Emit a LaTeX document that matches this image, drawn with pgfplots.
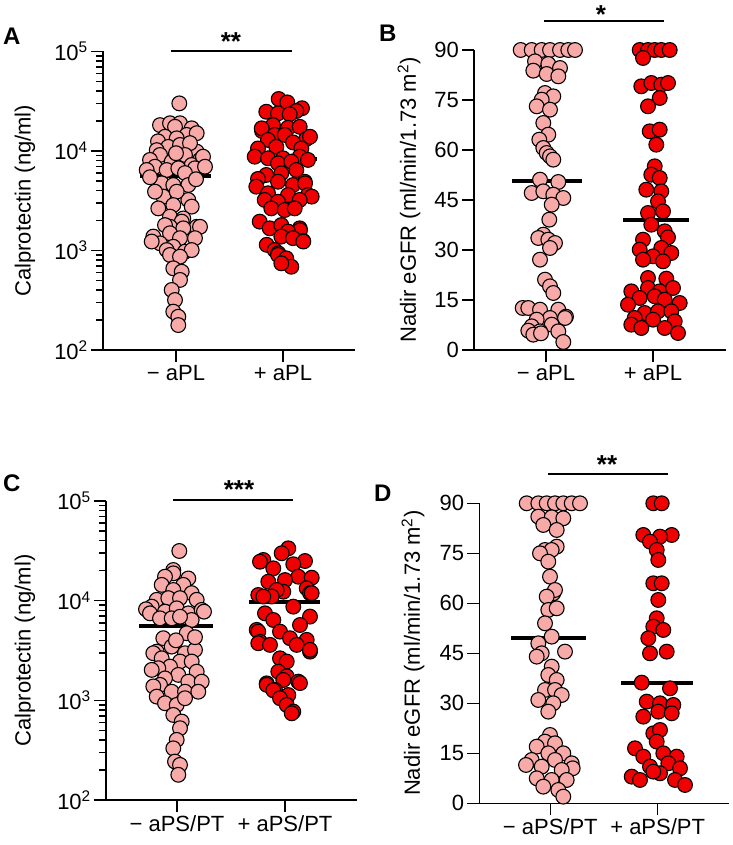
\documentclass[border=0pt]{standalone}
\usepackage{fontspec}
\setmainfont{Liberation Sans}
\usepackage{pgfplots}
\pgfplotsset{compat=1.18}
\definecolor{pinkfill}{RGB}{247,170,168}
\definecolor{redfill}{RGB}{240,0,0}
\pgfplotsset{
  dotpanel/.style={
    scale only axis,
    axis x line*=bottom, axis y line*=left,
    axis line style={line width=1.5pt, black},
    tick align=outside,
    major tick length=12pt, minor tick length=7pt,
    tick style={line width=1.5pt, black},
    clip=false,
    tick label style={font=\fontsize{22}{26}\selectfont},
    yticklabel style={inner sep=3pt},
    label style={font=\fontsize{22}{26}\selectfont},
    /pgf/number format/assume math mode=true,
  },
  pinkdots/.style={only marks, mark=*, mark size=7.4pt, mark options={fill=pinkfill, draw=black, line width=1.1pt}},
  reddots/.style={only marks, mark=*, mark size=7.4pt, mark options={fill=redfill, draw=black, line width=1.1pt}},
  meanline/.style={no marks, line width=4pt, black},
  sigbar/.style={no marks, line width=1.5pt, black},
}
\newcommand{\stars}[1]{{\fontsize{26}{30}\selectfont\bfseries #1}}
\newcommand{\panel}[1]{{\fontsize{24}{28}\selectfont\bfseries #1}}
\begin{document}
\begin{tikzpicture}
\useasboundingbox (0,0) rectangle (732pt,845pt);

% ---------------- Panel A ----------------
\begin{axis}[dotpanel, at={(103pt,495pt)}, anchor=south west, width=252pt, height=298.5pt,
  xmin=103, xmax=355, ymode=log, ymin=100, ymax=100000,
  xtick={176,283}, xticklabels={− aPL, + aPL},
  ytick={100,1000,10000,100000},
  yticklabels={10\textsuperscript{2},10\textsuperscript{3},10\textsuperscript{4},10\textsuperscript{5}},
  minor ytick={200,300,400,500,600,700,800,900,2000,3000,4000,5000,6000,7000,8000,9000,20000,30000,40000,50000,60000,70000,80000,90000},
  ylabel={Calprotectin (ng/ml)}, ylabel style={at={(axis description cs:-0.31,0.5)}, anchor=center}]
\addplot[pinkdots] coordinates {
(179.3,30100)
(160,18200) (170,19000) (180,19000) (191.7,16900) (175,17500)
(186.7,14500) (165,13900) (176.7,13400) (196.7,15100) (158,12500)
(168.3,11000) (180,11500) (156.7,10200) (196.7,9850) (190,12000)
(160,9120) (150,8130) (171.7,7820) (185,9120) (200,8130) (191.7,7230) (203,8770) (176,9500)
(155,6950) (166.7,6440) (178.3,6700) (195,6700) (146.7,6440) (205,6950) (185,6000)
(161.7,4730) (173.3,4550) (188.3,4550) (150,5450) (196,5200)
(163.3,3480) (188.3,3220) (176.7,3900) (173.3,2860) (155,3900)
(158.3,2650) (191.7,2760) (170,2190) (183.3,2100)
(181.7,1950) (170,1730) (196.7,1730) (183.3,1670) (165,1800) (200,1730)
(153.3,1380) (170,1490) (195,1330) (160,1180) (180,1330) (173.3,1090) (151.7,1230)
(166.7,1010) (185,973) (170,902) (191.7,1010) (180,867)
(173.3,662) (181.7,612) (180,506)
(171.7,401) (175,318)
(173.3,243) (178.3,216)
(178.3,178)
};
\addplot[reddots] coordinates {
(278.7,33300) (287.3,30800) (302,26900) (296.3,25200) (266.3,24800) (278,23900) (289.7,23400)
(273,18200) (288,17100) (299.7,17500) (262,15900) (261.7,16900) (274.7,14500) (284.7,14500) (306.3,13200) (310,13900)
(268,12900) (293,12200) (276.3,11000) (258,10600) (301.3,10600)
(254.7,8770) (268,8450) (283,8450) (299.7,8770) (308,8130) (278,7520) (291.3,7820)
(266.3,5740) (296.3,6440) (281.3,5970) (258,5240) (304.7,4910) (278,4910) (293,4550) (305,4730)
(256.3,4380) (268,3760) (288,3610) (308,3610) (311.7,3480) (264.7,3220) (299.7,3220) (278,3090)
(271.3,2650) (284.7,2550) (294.7,2650)
(259.7,1950) (269.7,1670) (281.3,1800) (299.7,1670) (300,1600) (288,1550) (281.3,1380) (303,1250) (293,1330) (303.3,1230)
(266.7,1140) (274.7,1010) (278.3,938) (278,902) (286.3,834) (291.3,687) (281.3,743)
};
\addplot[meanline] coordinates {(140,5600) (211,5600)};
\addplot[meanline] coordinates {(251,8300) (317,8300)};
\addplot[sigbar] coordinates {(171,101000) (292,101000)};
\node[anchor=north, inner sep=0pt, yshift=19.5pt] at (axis cs:231,100000) {\stars{**}};
\end{axis}

% ---------------- Panel B ----------------
\begin{axis}[dotpanel, at={(474pt,495pt)}, anchor=south west, width=252pt, height=300pt,
  xmin=474, xmax=726, ymin=0, ymax=90,
  xtick={546,653}, xticklabels={− aPL, + aPL},
  ytick={0,15,30,45,60,75,90},
  ylabel={Nadir eGFR (ml/min/1.73 m\textsuperscript{2})}, ylabel style={at={(axis description cs:-0.258,0.5)}, anchor=center}]
\addplot[pinkdots] coordinates {
(520.7,90) (531.7,90) (541.7,90) (550,90) (560,90) (568.3,90) (575,90)
(535,86.6) (548.3,85.8) (560,84.6) (533.3,83.8) (546.7,82.8) (558.3,82.1)
(545,77.1) (553.3,76.1) (541.7,75.1) (536.7,73.1) (550,72.1)
(543.3,68.1) (548.3,64.6) (539.3,63.1) (543.3,60.6) (546.7,59.1) (550,58.1) (553.3,57.1)
(540,51.1) (558.3,50.4) (531.7,47.1) (543.3,47.6) (553.3,46.6) (563.3,45.6) (551.7,43.6)
(549.3,39.1) (543.3,34.6) (538.3,33.6) (548.3,33.1) (555,32.1) (550,30.6) (540,27.1)
(545,21.1) (550,19.1) (553.3,17.1)
(522.7,12.6) (528.3,12.6) (540,12.1) (558.3,12.1) (566,10) (550,9.6) (536.7,9.1) (565,9.6)
(531.7,7.1) (551.7,7.6) (540,5.6) (528.3,5.8) (558.3,5.6) (533.3,4.6) (541,5) (563.3,2.4)
};
\addplot[reddots] coordinates {
(639.7,90) (648,90) (654.7,90) (661.3,90) (669.7,90) (643,87.6)
(641.3,79.1) (651.3,80.1) (661.3,79.6) (668,80.1) (659.7,75.6) (648,73.1)
(649.7,65.6) (659.7,66.1) (656.3,61.6)
(654.7,55.1) (651.3,52.6) (659.7,51.6) (646.3,48.1) (661.3,47.6) (658,44.6) (648,41.1) (663,41.6)
(651.3,37.6) (664.7,35.6) (668,33.8) (643,33.1) (639.7,30.1) (661.3,30.6) (671.3,29.1) (653,28.1) (643,27.1) (663,26.6)
(648,21.6) (666.3,21.4) (631.3,17.6) (648,18.6) (659.7,17.6) (673,18.6) (639.7,15.6) (654.7,16.1) (664.7,15.1)
(628,13.6) (679.7,14.1) (644.7,11.1) (658,11.6) (671.3,11.6) (634.7,9.6) (653,9.1) (674.7,8.6)
(631.3,7.6) (664.7,6.6) (678,5.1) (641.3,6.6)
};
\addplot[meanline] coordinates {(512,50.7) (582,50.7)};
\addplot[meanline] coordinates {(623,39) (689,39)};
\addplot[sigbar] coordinates {(544,98.7) (664,98.7)};
\node[anchor=north, inner sep=0pt, yshift=16pt] at (axis cs:601,98.7) {\stars{*}};
\end{axis}

% ---------------- Panel C ----------------
\begin{axis}[dotpanel, at={(106pt,45pt)}, anchor=south west, width=251pt, height=299pt,
  xmin=106, xmax=357, ymode=log, ymin=100, ymax=100000,
  xtick={177,285}, xticklabels={− aPS/PT, + aPS/PT},
  ytick={100,1000,10000,100000},
  yticklabels={10\textsuperscript{2},10\textsuperscript{3},10\textsuperscript{4},10\textsuperscript{5}},
  minor ytick={200,300,400,500,600,700,800,900,2000,3000,4000,5000,6000,7000,8000,9000,20000,30000,40000,50000,60000,70000,80000,90000},
  ylabel={Calprotectin (ng/ml)}, ylabel style={at={(axis description cs:-0.323,0.5)}, anchor=center}]
\addplot[pinkdots] coordinates {
(179.3,31500) (173.3,20300) (173.3,18800) (165,17400) (188.3,16700)
(161.7,14400) (183.3,14400) (173.3,12800) (191.7,11900)
(156.7,10200) (168.3,10600) (180,10600) (196.7,10200)
(151.7,8710) (146,8200) (165,7760) (176.7,8380) (188.3,7460) (201.7,8070) (204,7760) (150,7460)
(160,6650) (171.7,6650) (191.7,6400) (180,6900)
(186.7,4710) (163.3,4200) (156.7,3080) (171.7,3460) (185,2970) (195,3210) (153.3,2970) (176,4000) (195,4300)
(161.7,2640) (180,2450) (191.7,2450) (170,2180) (158.3,2100) (151.7,2020) (196.7,1940)
(178.3,1800) (165,1660) (188.3,1540) (201.7,1540) (160,1430) (153.3,1380)
(171.7,1220) (185,1220) (198.3,1220) (156.7,1090)
(165,935) (176.7,899) (185,1050)
(173.3,714) (181.7,612) (180,525)
(176.7,401) (173.3,330) (175,243) (180,225) (178.3,179)
};
\addplot[reddots] coordinates {
(288.3,33500) (281.7,29900) (263.3,25600) (260,24600) (305,25000) (293.3,23200) (273.3,21100)
(298.3,17400) (311.7,17000) (285,16100) (268.3,15500) (306.7,13300) (283.3,12300) (276.7,12800)
(310,11900) (311.7,11900) (258.3,11400) (271.7,11000) (263.3,11000)
(293.3,8710) (265,7460) (310,6920) (273.3,6400) (300,5700) (256.7,5090)
(258.3,4890) (280,4890) (290,4200) (306.7,4040) (260,3860) (258.3,3740) (270,3600) (296.7,3600) (310,3080) (310,3210)
(280,2640) (286.7,2450) (278.3,1940) (286.7,1740) (298.3,1540) (266.7,1480) (283.3,1600) (300,1490) (266.7,1430)
(275,1270) (273.3,1260) (288.3,1130) (280,1050) (286.7,899) (293.3,771) (291.7,741)
};
\addplot[meanline] coordinates {(139,5570) (213,5570)};
\addplot[meanline] coordinates {(249,9770) (320,9770)};
\addplot[sigbar] coordinates {(173,102000) (293,102000)};
\node[anchor=north, inner sep=0pt, yshift=20pt] at (axis cs:239,102000) {\stars{***}};
\end{axis}

% ---------------- Panel D ----------------
\begin{axis}[dotpanel, at={(479.3pt,41.7pt)}, anchor=south west, width=250pt, height=300pt,
  xmin=479.3, xmax=729.3, ymin=0, ymax=90,
  xtick={550.3,657.7}, xticklabels={− aPS/PT, + aPS/PT},
  ytick={0,15,30,45,60,75,90},
  ylabel={Nadir eGFR (ml/min/1.73 m\textsuperscript{2})}, ylabel style={at={(axis description cs:-0.265,0.5)}, anchor=center}]
\addplot[pinkdots] coordinates {
(526.7,90) (538.3,90) (546.7,90) (555,90) (563.3,90) (571.7,90) (580,90)
(538.3,86) (551.7,85.8) (563.3,85.5) (543.3,83.5) (556.7,82)
(556.7,77) (545,76) (551.7,76) (540,75) (548.3,72.5)
(550,68) (553.3,63) (555,64) (546.7,62) (548.3,58) (556.7,58.5) (545,54)
(551.7,50) (538.3,48) (541.7,45) (565,45.5) (536.7,44)
(551.7,41) (548.3,38.5) (556.7,37) (545,34) (555,34) (561.7,32.5) (538.3,31) (553.3,30) (548.3,27.5)
(550,20.5) (545,18.5) (555,18) (536.7,17) (548.3,15) (563.3,15)
(531.7,13) (526,11.5) (555,13) (571.7,12) (572.7,10.5) (541.7,11) (561.7,10)
(536.7,7.5) (551.7,7) (566.7,7) (543.3,5) (558.3,4) (563.3,2)
};
\addplot[reddots] coordinates {
(653.3,90) (661.7,90)
(643.3,80.5) (671.7,80.5) (660,80) (650,78.5) (656.7,76) (658.3,73)
(653.3,66) (661.7,66) (658.3,61)
(656.7,55.5) (653.3,53) (663.3,52) (648.3,49.5) (650,45) (666.7,45.5)
(641.7,36.2) (670,34.5) (646.7,30.5) (660,30) (673.3,29.5) (643.3,26) (658.3,27.5) (671.7,27)
(653.3,21) (660,22) (656.7,18.5) (635,16.5) (643.3,14) (663.3,15) (676.7,14)
(650,11) (668.3,12) (680,10.5) (631.7,8) (640,7) (660,9) (675,7) (685,5.5) (653.3,9.5)
};
\addplot[meanline] coordinates {(511,49.5) (586,49.5)};
\addplot[meanline] coordinates {(621,36) (693,36)};
\addplot[sigbar] coordinates {(548,98.8) (668,98.8)};
\node[anchor=north, inner sep=0pt, yshift=19pt] at (axis cs:607,98.8) {\stars{**}};
\end{axis}

% panel letters
\node[anchor=north west, inner sep=0pt] at (3pt,817pt) {\panel{A}};
\node[anchor=north west, inner sep=0pt] at (379pt,820pt) {\panel{B}};
\node[anchor=north west, inner sep=0pt] at (3pt,370pt) {\panel{C}};
\node[anchor=north west, inner sep=0pt] at (374pt,360pt) {\panel{D}};
\end{tikzpicture}
\end{document}
